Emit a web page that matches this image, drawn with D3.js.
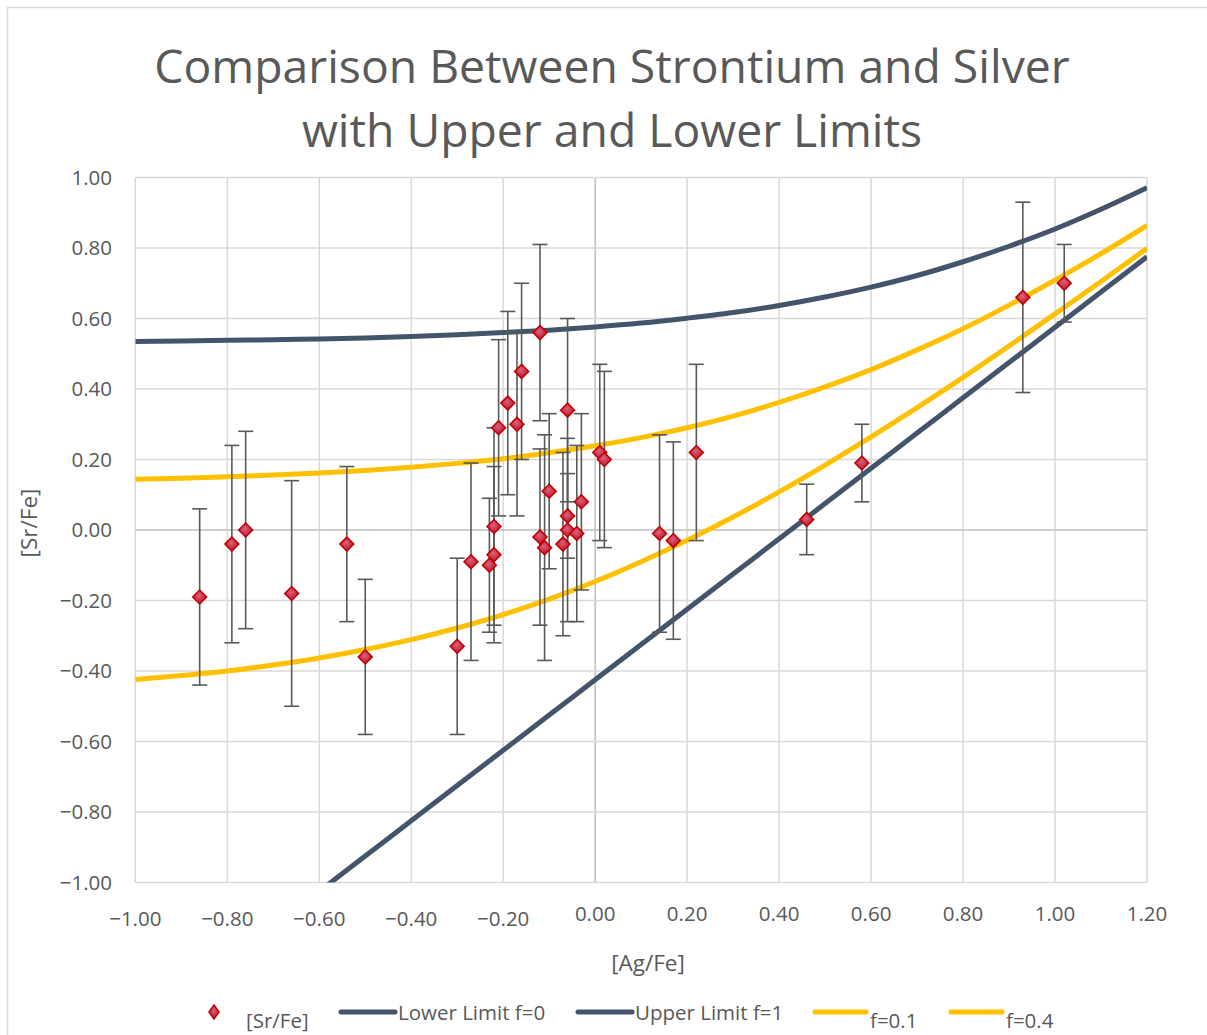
<!DOCTYPE html>
<html>
<head>
<meta charset="utf-8">
<script src="https://cdn.jsdelivr.net/npm/d3@7"></script>
<style>
  html, body { margin: 0; padding: 0; background: #ffffff; }
  svg { display: block; font-family: "Open Sans", "Noto Sans", sans-serif; }
</style>
</head>
<body>
<svg id="chart" width="1207" height="1035"></svg>
<script>
// [Ag/Fe] vs [Sr/Fe] for each star, with the [Sr/Fe] uncertainty
const agFe = [-0.86, -0.79, -0.76, -0.66, -0.54, -0.50, -0.30, -0.27, -0.23, -0.22,
              -0.22, -0.21, -0.19, -0.17, -0.16, -0.12, -0.12, -0.11, -0.10, -0.07,
              -0.06, -0.06, -0.06, -0.04, -0.03, 0.01, 0.02, 0.14, 0.17, 0.22,
              0.46, 0.58, 0.93, 1.02];
const srFe = [-0.19, -0.04, 0.00, -0.18, -0.04, -0.36, -0.33, -0.09, -0.10, 0.01,
              -0.07, 0.29, 0.36, 0.30, 0.45, 0.56, -0.02, -0.05, 0.11, -0.04,
              0.04, 0.00, 0.34, -0.01, 0.08, 0.22, 0.20, -0.01, -0.03, 0.22,
              0.03, 0.19, 0.66, 0.70];
const srErr = [0.25, 0.28, 0.28, 0.32, 0.22, 0.22, 0.25, 0.28, 0.19, 0.28,
               0.25, 0.25, 0.26, 0.26, 0.25, 0.25, 0.25, 0.32, 0.22, 0.26,
               0.12, 0.26, 0.26, 0.25, 0.25, 0.25, 0.25, 0.28, 0.28, 0.25,
               0.10, 0.11, 0.27, 0.11];

// Limit curves sampled along [Ag/Fe]
const curveX = [-1.0, -0.9, -0.8, -0.7, -0.6, -0.5, -0.4, -0.3, -0.2, -0.1, 0.0,
                0.1, 0.2, 0.3, 0.4, 0.5, 0.6, 0.7, 0.8, 0.9, 1.0, 1.1, 1.2];
const lowerLimit = [-1.425, -1.325, -1.225, -1.125, -1.025, -0.925, -0.825, -0.725, -0.625, -0.525, -0.425,
                    -0.325, -0.225, -0.125, -0.025, 0.075, 0.175, 0.275, 0.375, 0.475, 0.575, 0.675, 0.775];
const upperLimit = [0.535, 0.536, 0.538, 0.540, 0.542, 0.545, 0.549, 0.554, 0.560, 0.567, 0.576,
                    0.587, 0.601, 0.617, 0.637, 0.661, 0.689, 0.722, 0.761, 0.805, 0.854, 0.910, 0.971];
const fPoint1 = [-0.424, -0.413, -0.400, -0.383, -0.363, -0.339, -0.311, -0.278, -0.240, -0.196, -0.146,
                 -0.090, -0.029, 0.037, 0.108, 0.184, 0.264, 0.347, 0.433, 0.522, 0.613, 0.705, 0.799];
const fPoint4 = [0.144, 0.147, 0.151, 0.156, 0.162, 0.169, 0.178, 0.189, 0.202, 0.219, 0.239,
                 0.262, 0.290, 0.323, 0.362, 0.406, 0.455, 0.511, 0.571, 0.638, 0.709, 0.784, 0.864];

const xTicks = [-1.0, -0.8, -0.6, -0.4, -0.2, 0.0, 0.2, 0.4, 0.6, 0.8, 1.0, 1.2];
const yTicks = [-1.0, -0.8, -0.6, -0.4, -0.2, 0.0, 0.2, 0.4, 0.6, 0.8, 1.0];

const textColor = "#595959";
const darkBlue = "#44546a";
const gold = "#ffc000";

const svg = d3.select("#chart");
const plot = { left: 135.3, right: 1147, top: 177.5, bottom: 882.5 };

const x = d3.scaleLinear().domain([-1.0, 1.2]).range([plot.left, plot.right]);
const y = d3.scaleLinear().domain([-1.0, 1.0]).range([plot.bottom, plot.top]);

// outer chart frame
svg.append("rect")
  .attr("x", 7.5).attr("y", 7.5)
  .attr("width", 1220).attr("height", 1050)
  .attr("fill", "#ffffff").attr("stroke", "#d9d9d9").attr("stroke-width", 1.5);

// title
const title = svg.append("text")
  .attr("text-anchor", "middle")
  .attr("fill", textColor)
  .style("font-size", "46.3px");
title.append("tspan").attr("x", 612).attr("y", 83).text("Comparison Between Strontium and Silver");
title.append("tspan").attr("x", 612).attr("y", 147).text("with Upper and Lower Limits");

const defs = svg.append("defs");
defs.append("clipPath").attr("id", "plot-clip")
  .append("rect")
  .attr("x", plot.left).attr("y", plot.top)
  .attr("width", plot.right - plot.left).attr("height", plot.bottom - plot.top);

const grad = defs.append("radialGradient").attr("id", "diamond-fill")
  .attr("cx", "45%").attr("cy", "40%").attr("r", "60%");
grad.append("stop").attr("offset", "0%").attr("stop-color", "#d9627a");
grad.append("stop").attr("offset", "100%").attr("stop-color", "#c0102a");

// gridlines
const grid = svg.append("g");
grid.selectAll("line.gx").data(xTicks).join("line")
  .attr("x1", d => x(d)).attr("x2", d => x(d))
  .attr("y1", plot.top).attr("y2", plot.bottom)
  .attr("stroke", d => Math.abs(d) < 1e-9 ? "#bfbfbf" : "#d9d9d9")
  .attr("stroke-width", 1.5);
grid.selectAll("line.gy").data(yTicks).join("line")
  .attr("y1", d => y(d)).attr("y2", d => y(d))
  .attr("x1", plot.left).attr("x2", plot.right)
  .attr("stroke", d => Math.abs(d) < 1e-9 ? "#bfbfbf" : "#d9d9d9")
  .attr("stroke-width", 1.5);

// tick labels
const fmt = d3.format(".2f");
const isNeg = v => v < -1e-9;

svg.append("g").selectAll("text").data(yTicks).join("text")
  .attr("x", 112).attr("y", d => y(d))
  .attr("dy", "0.35em")
  .attr("text-anchor", "end")
  .attr("fill", textColor)
  .style("font-size", "20.5px")
  .text(d => fmt(d));

svg.append("g").selectAll("text").data(xTicks).join("text")
  .attr("x", d => x(d))
  .attr("y", d => isNeg(d) ? 926 : 921)
  .attr("text-anchor", "middle")
  .attr("fill", textColor)
  .style("font-size", "20.5px")
  .text(d => fmt(d));

// axis titles
svg.append("text")
  .attr("x", 648).attr("y", 971)
  .attr("text-anchor", "middle")
  .attr("fill", textColor)
  .style("font-size", "22.5px")
  .text("[Ag/Fe]");
svg.append("text")
  .attr("transform", "translate(37,523) rotate(-90)")
  .attr("text-anchor", "middle")
  .attr("fill", textColor)
  .style("font-size", "22.5px")
  .text("[Sr/Fe]");

// limit curves
const curves = [
  { name: "Lower Limit f=0", values: lowerLimit, color: darkBlue },
  { name: "Upper Limit f=1", values: upperLimit, color: darkBlue },
  { name: "f=0.1", values: fPoint1, color: gold },
  { name: "f=0.4", values: fPoint4, color: gold }
];
const line = d3.line()
  .x(d => x(d[0]))
  .y(d => y(d[1]))
  .curve(d3.curveMonotoneX);

svg.append("g").attr("clip-path", "url(#plot-clip)")
  .selectAll("path").data(curves).join("path")
  .attr("d", c => line(curveX.map((v, i) => [v, c.values[i]])))
  .attr("fill", "none")
  .attr("stroke", c => c.color)
  .attr("stroke-width", 5)
  .attr("stroke-linejoin", "round");

// error bars
const stars = agFe.map((v, i) => ({ ag: v, sr: srFe[i], err: srErr[i] }));
const capHalf = 7.5;
const eb = svg.append("g").attr("stroke", "#595959").attr("stroke-width", 1.6).attr("fill", "none");
eb.selectAll("line.stem").data(stars).join("line")
  .attr("x1", d => x(d.ag)).attr("x2", d => x(d.ag))
  .attr("y1", d => y(d.sr + d.err)).attr("y2", d => y(d.sr - d.err));
eb.selectAll("line.top").data(stars).join("line")
  .attr("x1", d => x(d.ag) - capHalf).attr("x2", d => x(d.ag) + capHalf)
  .attr("y1", d => y(d.sr + d.err)).attr("y2", d => y(d.sr + d.err));
eb.selectAll("line.bot").data(stars).join("line")
  .attr("x1", d => x(d.ag) - capHalf).attr("x2", d => x(d.ag) + capHalf)
  .attr("y1", d => y(d.sr - d.err)).attr("y2", d => y(d.sr - d.err));

// diamond markers
const diamond = r => `M0,${-r}L${r},0L0,${r}L${-r},0Z`;
svg.append("g").selectAll("path").data(stars).join("path")
  .attr("transform", d => `translate(${x(d.ag)},${y(d.sr)})`)
  .attr("d", diamond(7))
  .attr("fill", "url(#diamond-fill)")
  .attr("stroke", "#c00000")
  .attr("stroke-width", 1.5);

// legend
const legend = svg.append("g").attr("fill", textColor).style("font-size", "20.5px");
legend.append("path")
  .attr("transform", "translate(214,1012)")
  .attr("d", "M0,-7L5,0L0,7L-5,0Z")
  .attr("fill", "url(#diamond-fill)")
  .attr("stroke", "#c00000").attr("stroke-width", 1.5);
legend.append("text").attr("x", 246).attr("y", 1028).text("[Sr/Fe]");

const legendLines = [
  { name: curves[0].name, color: darkBlue, x0: 341, x1: 395, tx: 398, ty: 1020 },
  { name: curves[1].name, color: darkBlue, x0: 578, x1: 632, tx: 635, ty: 1020 },
  { name: curves[2].name, color: gold, x0: 815, x1: 866, tx: 870, ty: 1028 },
  { name: curves[3].name, color: gold, x0: 951, x1: 1002, tx: 1006, ty: 1028 }
];
legendLines.forEach(l => {
  legend.append("line")
    .attr("x1", l.x0).attr("x2", l.x1).attr("y1", 1012).attr("y2", 1012)
    .attr("stroke", l.color).attr("stroke-width", 5).attr("stroke-linecap", "round");
  legend.append("text").attr("x", l.tx).attr("y", l.ty).text(l.name);
});
</script>
</body>
</html>
